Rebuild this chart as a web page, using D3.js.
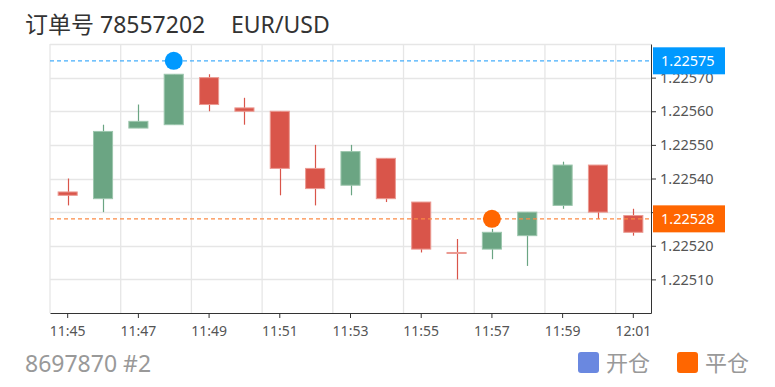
<!DOCTYPE html>
<html>
<head>
<meta charset="utf-8">
<script src="https://cdn.jsdelivr.net/npm/d3@7"></script>
<style>
    body { margin: 0; background: #fff; }
    svg { font-family: "Noto Sans", "Noto Sans CJK SC", sans-serif; }
</style>
</head>
<body>
<div id="chart"></div>
<script>
// 數據
var times = ["11:45", "11:46", "11:47", "11:48", "11:49", "11:50", "11:51", "11:52", "11:53",
    "11:54", "11:55", "11:56", "11:57", "11:58", "11:59", "12:00", "12:01"];
var open  = [1.22536, 1.22534, 1.22555, 1.22556, 1.22570, 1.22561, 1.22560, 1.22543, 1.22538,
    1.22546, 1.22533, 1.22518, 1.22519, 1.22523, 1.22532, 1.22544, 1.22529];
var close = [1.22535, 1.22554, 1.22557, 1.22571, 1.22562, 1.22560, 1.22543, 1.22537, 1.22548,
    1.22534, 1.22519, 1.22518, 1.22524, 1.22530, 1.22544, 1.22530, 1.22524];
var high  = [1.22540, 1.22556, 1.22562, 1.22571, 1.22571, 1.22564, 1.22560, 1.22550, 1.22550,
    1.22546, 1.22533, 1.22522, 1.22525, 1.22530, 1.22545, 1.22544, 1.22531];
var low   = [1.22532, 1.22530, 1.22555, 1.22556, 1.22560, 1.22556, 1.22535, 1.22532, 1.22535,
    1.22533, 1.22518, 1.22510, 1.22516, 1.22514, 1.22531, 1.22528, 1.22523];
var xLabels = ["11:45", "11:47", "11:49", "11:51", "11:53", "11:55", "11:57", "11:59", "12:01"];
var yTicks = [1.22510, 1.22520, 1.22530, 1.22540, 1.22550, 1.22560, 1.22570];
var gridTicks = [1.22510, 1.22520, 1.22530, 1.22540, 1.22550, 1.22560, 1.22570, 1.22580];
var yDomain = [1.22500, 1.22580];

var openTime = "11:48", openPrice = 1.22575;
var closeTime = "11:57", closePrice = 1.22528;

var width = 775;
var height = 387;
var padding = {top: 44, right: 124, left: 50, bottom: 74};

var svg = d3.select("#chart").append("svg").attr("width", width).attr("height", height);

var x = d3.scaleBand().domain(times).range([padding.left, width - padding.right]);
var y = d3.scaleLinear().domain(yDomain).range([height - padding.bottom, padding.top]);
var bw = x.bandwidth();
var candleW = bw * 0.54;

var green = "#6ba583", greenEdge = "#9cc6ad";
var red = "#d9554a", redEdge = "#eb9a92";

// 網格
svg.append("g").selectAll("line")
    .data(gridTicks)
    .enter()
    .append("line")
    .attr("x1", padding.left).attr("x2", width - padding.right)
    .attr("y1", function (d) { return Math.round(y(d)) + 0.5; })
    .attr("y2", function (d) { return Math.round(y(d)) + 0.5; })
    .attr("stroke", "#e6e6e6").attr("stroke-width", 1.3);

svg.append("g").selectAll("line")
    .data(times.filter(function (d, i) { return i % 2 === 0; }))
    .enter()
    .append("line")
    .attr("x1", function (d) { return x(d); })
    .attr("x2", function (d) { return x(d); })
    .attr("y1", padding.top).attr("y2", height - padding.bottom)
    .attr("stroke", "#e6e6e6").attr("stroke-width", 1.3);

// 座標軸
var xAxis = d3.axisBottom(x).tickValues(xLabels).tickSize(5).tickSizeOuter(0);
var gx = svg.append("g")
    .attr("transform", "translate(0," + (height - padding.bottom) + ")")
    .call(xAxis);
gx.select(".domain").attr("stroke", "#333");
gx.selectAll(".tick line").attr("stroke", "#333");
gx.selectAll("text").attr("fill", "#555").attr("font-size", "14px").attr("dy", "1.1em")
    .attr("font-family", "Noto Sans");

var yAxis = d3.axisRight(y).tickValues(yTicks).tickSize(5).tickSizeOuter(0)
    .tickFormat(d3.format(".5f"));
var gy = svg.append("g")
    .attr("transform", "translate(" + (width - padding.right) + ",0)")
    .call(yAxis);
gy.select(".domain").attr("stroke", "#333");
gy.selectAll(".tick line").attr("stroke", "#333");
gy.selectAll("text").attr("fill", "#555").attr("font-size", "14.5px").attr("x", 9)
    .attr("font-family", "Noto Sans");

// K線
var idx = d3.range(times.length);
var candles = svg.append("g").selectAll("g")
    .data(idx)
    .enter()
    .append("g");

candles.append("line")
    .attr("x1", function (i) { return Math.round(x(times[i]) + bw / 2) + 0.5; })
    .attr("x2", function (i) { return Math.round(x(times[i]) + bw / 2) + 0.5; })
    .attr("y1", function (i) { return y(high[i]); })
    .attr("y2", function (i) { return y(low[i]); })
    .attr("stroke", function (i) { return close[i] > open[i] ? green : red; })
    .attr("stroke-width", 1.2);

candles.append("rect")
    .attr("x", function (i) { return x(times[i]) + (bw - candleW) / 2; })
    .attr("y", function (i) { return y(Math.max(open[i], close[i])); })
    .attr("width", candleW)
    .attr("height", function (i) { return Math.max(1, Math.abs(y(open[i]) - y(close[i]))); })
    .attr("fill", function (i) { return close[i] > open[i] ? green : red; })
    .attr("stroke", function (i) { return close[i] > open[i] ? greenEdge : redEdge; })
    .attr("stroke-width", 1);

// 開倉 / 平倉 線
var marks = [
    {time: openTime, price: openPrice, line: "#45aefc", fill: "#0099ff"},
    {time: closeTime, price: closePrice, line: "#fb8a45", fill: "#ff6600"}
];

svg.append("g").selectAll("line")
    .data(marks)
    .enter()
    .append("line")
    .attr("x1", padding.left).attr("x2", width - padding.right)
    .attr("y1", function (d) { return y(d.price); })
    .attr("y2", function (d) { return y(d.price); })
    .attr("stroke", function (d) { return d.line; })
    .attr("stroke-width", 1.3)
    .attr("stroke-dasharray", "4,3");

svg.append("g").selectAll("circle")
    .data(marks)
    .enter()
    .append("circle")
    .attr("cx", function (d) { return x(d.time) + bw / 2; })
    .attr("cy", function (d) { return y(d.price); })
    .attr("r", 9)
    .attr("fill", function (d) { return d.fill; });

var tags = svg.append("g").selectAll("g")
    .data(marks)
    .enter()
    .append("g");

tags.append("rect")
    .attr("x", width - padding.right + 2)
    .attr("y", function (d) { return y(d.price) - 13.5; })
    .attr("width", 72)
    .attr("height", 27)
    .attr("fill", function (d) { return d.fill; });

tags.append("text")
    .attr("x", width - padding.right + 10)
    .attr("y", function (d) { return y(d.price); })
    .attr("dy", "0.35em")
    .attr("fill", "white")
    .attr("font-size", "14.5px")
    .attr("font-family", "Noto Sans")
    .text(function (d) { return d3.format(".5f")(d.price); });

// 標題
svg.append("text")
    .attr("x", 25).attr("y", 33)
    .attr("fill", "#333").attr("font-size", "23px")
    .text("订单号 78557202");
svg.append("text")
    .attr("x", 231).attr("y", 33)
    .attr("fill", "#333").attr("font-size", "23px")
    .text("EUR/USD");

svg.append("text")
    .attr("x", 25).attr("y", 372)
    .attr("fill", "#999").attr("font-size", "23px")
    .text("8697870 #2");

// 圖例
var legend = [
    {name: "开仓", color: "#6a88e0", x: 578},
    {name: "平仓", color: "#ff6600", x: 677}
];
var lg = svg.append("g").selectAll("g")
    .data(legend)
    .enter()
    .append("g");

lg.append("rect")
    .attr("x", function (d) { return d.x; })
    .attr("y", 352)
    .attr("width", 21).attr("height", 21).attr("rx", 3)
    .attr("fill", function (d) { return d.color; });

lg.append("text")
    .attr("x", function (d) { return d.x + 28; })
    .attr("y", 371)
    .attr("fill", "#999").attr("font-size", "22px")
    .text(function (d) { return d.name; });
</script>
</body>
</html>
